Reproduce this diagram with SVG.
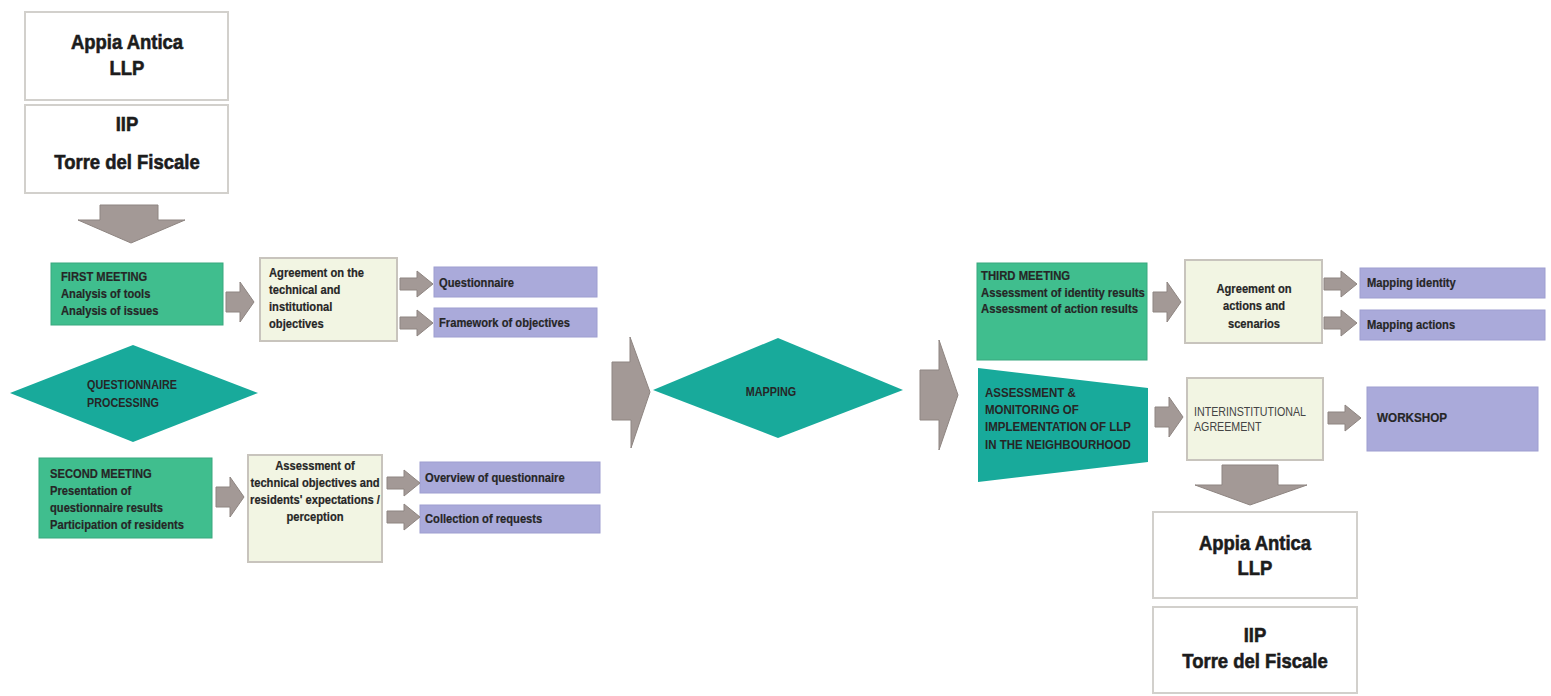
<svg xmlns="http://www.w3.org/2000/svg" xmlns:xlink="http://www.w3.org/1999/xlink" width="1551" height="696" viewBox="0 0 1551 696">
  <style>
    .white { fill: #ffffff; stroke: #d2d0cc; stroke-width: 2; }
    .green { fill: #40be8e; stroke: #38a87e; stroke-width: 1; }
    .teal { fill: #18aa9b; }
    .cream { fill: #f2f5e3; stroke: #c8c4bd; stroke-width: 2; }
    .lav { fill: #aaaada; stroke: #9e9ed0; stroke-width: 1; }
    .arrow { fill: #a39996; stroke: #8e8581; stroke-width: 1; }
    text { font-family: "Liberation Sans", Arial, sans-serif; fill: #262626; }
    .big { font-size: 21px; font-weight: bold; text-anchor: middle; fill: #1c1c1c; stroke: #1c1c1c; stroke-width: 0.6; }
    .sm { font-size: 13px; font-weight: bold; stroke: #262626; stroke-width: 0.2; }
    .cap { font-size: 12px; font-weight: bold; }
    .thin { font-size: 12px; fill: #444444; }
    .mid { text-anchor: middle; }
  </style>
  <defs>
    <path id="arrowS" d="M0,-6 H17 V-13 L33,0 L17,13 V6 H0 Z"/>
    <path id="arrowM" d="M0,-10 H14 V-20 L28,0 L14,20 V10 H0 Z"/>
  </defs>

  <rect width="1551" height="696" fill="#ffffff"/>

  <!-- entry partners -->
  <g id="start-llp">
    <rect class="white" x="25" y="12" width="203" height="88"/>
    <g transform="translate(127 0) scale(0.88 1)">
      <text class="big" x="0" y="49">Appia Antica</text>
      <text class="big" x="0" y="75">LLP</text>
    </g>
  </g>
  <g id="start-iip">
    <rect class="white" x="25" y="105" width="203" height="88"/>
    <g transform="translate(127 0) scale(0.88 1)">
      <text class="big" x="0" y="131">IIP</text>
      <text class="big" x="0" y="169">Torre del Fiscale</text>
    </g>
  </g>

  <!-- first meeting branch -->
  <g id="first-meeting">
    <rect class="green" x="51" y="263" width="172" height="62"/>
    <g transform="translate(61 0) scale(0.86 1)">
      <text class="sm" x="0" y="281">FIRST MEETING</text>
      <text class="sm" x="0" y="298">Analysis of tools</text>
      <text class="sm" x="0" y="315">Analysis of issues</text>
    </g>
  </g>
  <g id="agreement-objectives">
    <rect class="cream" x="260" y="258" width="137" height="83"/>
    <g transform="translate(269 0) scale(0.86 1)">
      <text class="sm" x="0" y="277">Agreement on the</text>
      <text class="sm" x="0" y="294">technical and</text>
      <text class="sm" x="0" y="311">institutional</text>
      <text class="sm" x="0" y="328">objectives</text>
    </g>
  </g>
  <g id="questionnaire">
    <rect class="lav" x="434" y="267" width="163" height="30"/>
    <text class="sm" transform="translate(439 287) scale(0.86 1)">Questionnaire</text>
  </g>
  <g id="framework">
    <rect class="lav" x="434" y="308" width="163" height="29"/>
    <text class="sm" transform="translate(439 327) scale(0.86 1)">Framework of objectives</text>
  </g>

  <g id="questionnaire-processing">
    <polygon class="teal" points="10,393 133,345 258,393 133,442"/>
    <g transform="translate(87 0) scale(0.9 1)">
      <text class="cap" x="0" y="389">QUESTIONNAIRE</text>
      <text class="cap" x="0" y="407">PROCESSING</text>
    </g>
  </g>

  <!-- second meeting branch -->
  <g id="second-meeting">
    <rect class="green" x="39" y="458" width="173" height="80"/>
    <g transform="translate(50 0) scale(0.86 1)">
      <text class="sm" x="0" y="478">SECOND MEETING</text>
      <text class="sm" x="0" y="495">Presentation of</text>
      <text class="sm" x="0" y="512">questionnaire results</text>
      <text class="sm" x="0" y="529">Participation of residents</text>
    </g>
  </g>
  <g id="assessment-expectations">
    <rect class="cream" x="248" y="455" width="134" height="107"/>
    <g transform="translate(315 0) scale(0.86 1)">
      <text class="sm mid" x="0" y="470">Assessment of</text>
      <text class="sm mid" x="0" y="487">technical objectives and</text>
      <text class="sm mid" x="0" y="504">residents' expectations /</text>
      <text class="sm mid" x="0" y="521">perception</text>
    </g>
  </g>
  <g id="overview">
    <rect class="lav" x="420" y="462" width="180" height="31"/>
    <text class="sm" transform="translate(425 482) scale(0.86 1)">Overview of questionnaire</text>
  </g>
  <g id="requests">
    <rect class="lav" x="420" y="505" width="180" height="28"/>
    <text class="sm" transform="translate(425 523) scale(0.86 1)">Collection of requests</text>
  </g>

  <!-- central step -->
  <g id="mapping">
    <polygon class="teal" points="653,390 778,338 903,390 778,438"/>
    <text class="cap mid" transform="translate(771 396) scale(0.9 1)">MAPPING</text>
  </g>

  <!-- third meeting branch -->
  <g id="third-meeting">
    <rect class="green" x="977" y="263" width="170" height="97"/>
    <g transform="translate(981 0) scale(0.87 1)">
      <text class="sm" x="0" y="280">THIRD MEETING</text>
      <text class="sm" x="0" y="297">Assessment of identity results</text>
      <text class="sm" x="0" y="313">Assessment of action results</text>
    </g>
  </g>
  <g id="agreement-actions">
    <rect class="cream" x="1185" y="260" width="137" height="83"/>
    <g transform="translate(1254 0) scale(0.86 1)">
      <text class="sm mid" x="0" y="293">Agreement on</text>
      <text class="sm mid" x="0" y="310">actions and</text>
      <text class="sm mid" x="0" y="328">scenarios</text>
    </g>
  </g>
  <g id="mapping-identity">
    <rect class="lav" x="1360" y="268" width="185" height="30"/>
    <text class="sm" transform="translate(1367 287) scale(0.86 1)">Mapping identity</text>
  </g>
  <g id="mapping-actions">
    <rect class="lav" x="1360" y="310" width="185" height="30"/>
    <text class="sm" transform="translate(1367 329) scale(0.86 1)">Mapping actions</text>
  </g>

  <g id="monitoring">
    <polygon class="teal" points="978,368 1148,388 1148,462 978,482"/>
    <g transform="translate(985 0) scale(0.96 1)">
      <text class="cap" x="0" y="397">ASSESSMENT &amp;</text>
      <text class="cap" x="0" y="414">MONITORING OF</text>
      <text class="cap" x="0" y="431">IMPLEMENTATION OF LLP</text>
      <text class="cap" x="0" y="449">IN THE NEIGHBOURHOOD</text>
    </g>
  </g>
  <g id="interinstitutional">
    <rect class="cream" x="1187" y="378" width="136" height="82"/>
    <g transform="translate(1194 0) scale(0.89 1)">
      <text class="thin" x="0" y="416">INTERINSTITUTIONAL</text>
      <text class="thin" x="0" y="431">AGREEMENT</text>
    </g>
  </g>
  <g id="workshop">
    <rect class="lav" x="1367" y="387" width="171" height="64"/>
    <text class="sm" transform="translate(1377 422) scale(0.9 1)">WORKSHOP</text>
  </g>

  <!-- resulting partners -->
  <g id="end-llp">
    <rect class="white" x="1153" y="512" width="204" height="86"/>
    <g transform="translate(1255 0) scale(0.88 1)">
      <text class="big" x="0" y="550">Appia Antica</text>
      <text class="big" x="0" y="575">LLP</text>
    </g>
  </g>
  <g id="end-iip">
    <rect class="white" x="1153" y="607" width="204" height="86"/>
    <g transform="translate(1255 0) scale(0.88 1)">
      <text class="big" x="0" y="642">IIP</text>
      <text class="big" x="0" y="668">Torre del Fiscale</text>
    </g>
  </g>

  <!-- flow arrows -->
  <g id="connectors">
    <path class="arrow" d="M100,205 H158 V220 H185 L131,243 L78,220 H100 Z"/>
    <use class="arrow" xlink:href="#arrowM" x="226" y="302"/>
    <use class="arrow" xlink:href="#arrowS" x="400" y="284"/>
    <use class="arrow" xlink:href="#arrowS" x="400" y="323"/>
    <use class="arrow" xlink:href="#arrowM" x="216" y="497"/>
    <use class="arrow" xlink:href="#arrowS" x="387" y="483"/>
    <use class="arrow" xlink:href="#arrowS" x="387" y="517"/>
    <path class="arrow" d="M612,362 H630 V337 L650,392 L631,448 V420 H612 Z"/>
    <path class="arrow" d="M920,370 H939 V340 L958,395 L939,450 V420 H920 Z"/>
    <use class="arrow" xlink:href="#arrowM" x="1153" y="302"/>
    <use class="arrow" xlink:href="#arrowS" x="1324" y="284"/>
    <use class="arrow" xlink:href="#arrowS" x="1324" y="323"/>
    <use class="arrow" xlink:href="#arrowM" x="1155" y="417"/>
    <use class="arrow" xlink:href="#arrowS" x="1328" y="418"/>
    <path class="arrow" d="M1222,465 H1278 V485 H1307 L1250,505 L1195,485 H1222 Z"/>
  </g>
</svg>
